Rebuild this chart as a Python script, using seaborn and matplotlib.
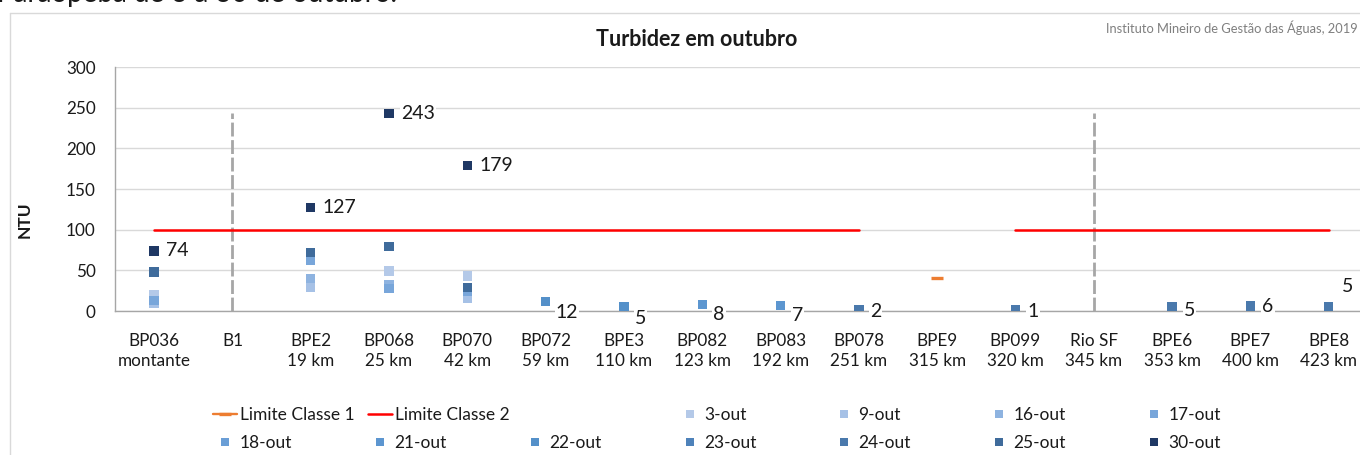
import numpy as np
import pandas as pd
import matplotlib
matplotlib.use("Agg")
import matplotlib.pyplot as plt
from matplotlib.lines import Line2D
import seaborn as sns

# ---------------- data ----------------
stations = ["BP036", "B1", "BPE2", "BP068", "BP070", "BP072", "BPE3", "BP082",
            "BP083", "BP078", "BPE9", "BP099", "Rio SF", "BPE6", "BPE7", "BPE8"]
distances = ["montante", "", "19 km", "25 km", "42 km", "59 km", "110 km", "123 km",
             "192 km", "251 km", "315 km", "320 km", "345 km", "353 km", "400 km", "423 km"]

dates = ["3-out", "9-out", "16-out", "17-out", "18-out", "21-out", "22-out",
         "23-out", "24-out", "25-out", "30-out"]

nan = np.nan
#            BP036 B1  BPE2 BP068 BP070 BP072 BPE3 BP082 BP083 BP078 BPE9 BP099 RioSF BPE6 BPE7 BPE8
v_03 = [20,  nan, nan, 49,  43,  nan, nan, nan, nan, nan, nan, nan, nan, nan, nan, nan]
v_09 = [9,   nan, 29,  nan, 16,  nan, nan, nan, nan, nan, nan, nan, nan, nan, nan, nan]
v_16 = [nan, nan, 40,  32,  nan, nan, nan, nan, nan, nan, nan, nan, nan, nan, nan, nan]
v_17 = [13,  nan, 62,  28,  24,  nan, nan, nan, nan, nan, nan, nan, nan, nan, nan, nan]
v_18 = [nan] * 16
v_21 = [nan, nan, nan, nan, nan, nan, nan, 8,   7,   nan, nan, nan, nan, nan, nan, nan]
v_22 = [nan, nan, nan, nan, nan, 12,  5,   nan, nan, nan, nan, nan, nan, nan, nan, nan]
v_23 = [nan] * 16
v_24 = [nan, nan, nan, nan, nan, nan, nan, nan, nan, 2,   nan, 1,   nan, 5,   6,   5]
v_25 = [48,  nan, 72,  79,  29,  nan, nan, nan, nan, nan, nan, nan, nan, nan, nan, nan]
v_30 = [74,  nan, 127, 243, 179, nan, nan, nan, nan, nan, nan, nan, nan, nan, nan, nan]
series_values = [v_03, v_09, v_16, v_17, v_18, v_21, v_22, v_23, v_24, v_25, v_30]

limite_classe_1 = [nan] * 10 + [40] + [nan] * 5
limite_classe_2 = [100] * 10 + [nan] + [100] * 5

divider_stations = ["B1", "Rio SF"]
divider_top = 243

# ---------------- style ----------------
colors = ["#B4C9E8", "#A6C1E6", "#8EB3E0", "#78A6DA", "#6A9ED6", "#5C96D0",
          "#5490C9", "#4E82BA", "#4A79AC", "#3F6B9B", "#1F3864"]
palette = dict(zip(dates, colors))

# label offsets (pixels) per labelled station
label_offsets = {"BP036": (12, 0), "BPE2": (12, 0), "BP068": (12, 0), "BP070": (12, 0),
                 "BP072": (10, -11), "BPE3": (11, -12), "BP082": (11, -10),
                 "BP083": (11, -10), "BP078": (11, -2), "BP099": (12, -1),
                 "BPE6": (12, -4), "BPE7": (12, 0), "BPE8": (13, 20)}

W, H = 1360, 455
sns.set_theme(style="white")
plt.rcParams["font.family"] = ["Lato", "DejaVu Sans"]
TXT = "#1a1a1a"

fig = plt.figure(figsize=(W / 100, H / 100), dpi=100)

# chart frame
fig.add_artist(Line2D([9.5 / W, 9.5 / W], [0, 1 - 12.5 / H], transform=fig.transFigure,
                      color="#D9D9D9", lw=1))
fig.add_artist(Line2D([9.5 / W, 1], [1 - 12.5 / H, 1 - 12.5 / H], transform=fig.transFigure,
                      color="#D9D9D9", lw=1))

ax_left, ax_bottom = 115, 311
cat_w = 78.3
ax = fig.add_axes([ax_left / W, 1 - ax_bottom / H, 16 * cat_w / W, 244 / H])

x = np.arange(len(stations))

# long data frame
rows = []
for d, vals in zip(dates, series_values):
    for i, v in enumerate(vals):
        if not np.isnan(v):
            rows.append({"pos": x[i], "station": stations[i], "date": d, "NTU": v})
df = pd.DataFrame(rows)

# dividers
div_x = [stations.index(s) for s in divider_stations]
ax.vlines(div_x, 0, divider_top, colors="#A6A6A6", lw=2.0,
          linestyles=(0, (5, 1.3)), zorder=2)

# limits
l2, = ax.plot(x, limite_classe_2, color="#FF0000", lw=1.8, zorder=3)
l1, = ax.plot(x, limite_classe_1, color="#ED7D31", lw=1.7, marker="_",
              markersize=9, markeredgewidth=2.4, zorder=3)

sns.scatterplot(data=df, x="pos", y="NTU", hue="date", hue_order=dates,
                palette=palette, marker="s", s=46, linewidth=0, legend=False,
                ax=ax, zorder=4)

# data labels: top value at each station
tops = df.groupby("station")["NTU"].max()
for st, v in tops.items():
    dx, dy = label_offsets.get(st, (12, 0))
    ax.annotate(f"{v:g}", (stations.index(st), v), xytext=(dx / 1.389, dy / 1.389),
                textcoords="offset points", ha="left", va="center", fontsize=14,
                color=TXT, zorder=5,
                bbox=dict(boxstyle="square,pad=0.05", fc="white", ec="none"))

ax.set_xlim(-0.5, 15.5)
ax.set_ylim(0, 300)
ax.set_yticks(np.arange(0, 301, 50))
ax.set_xticks(x)
ax.set_xticklabels([f"{s}\n{d}" for s, d in zip(stations, distances)],
                   fontsize=12.3, color=TXT, linespacing=1.3)
ax.set_xticks(np.arange(-0.5, 16, 1), minor=True)
ax.tick_params(axis="x", which="major", length=0, pad=16)
ax.tick_params(axis="x", which="minor", length=5, width=1, color="#A6A6A6", direction="out")
ax.tick_params(axis="y", length=5, width=1, color="#A6A6A6", direction="out",
               labelsize=12.3, labelcolor=TXT, pad=9)
ax.grid(axis="y", color="#D9D9D9", lw=1)
ax.grid(axis="x", visible=False)
for side in ["top", "right"]:
    ax.spines[side].set_visible(False)
for side in ["left", "bottom"]:
    ax.spines[side].set_color("#A6A6A6")
    ax.spines[side].set_linewidth(1)
ax.set_xlabel("")
ax.set_ylabel("")
ax.set_axisbelow(True)

# texts
fig.text(697 / W, 1 - 40 / H, "Turbidez em outubro", ha="center", va="center",
         fontsize=15.5, fontweight="bold", color=TXT)
fig.text(25 / W, 1 - 220 / H, "NTU", ha="center", va="center", rotation=90,
         fontsize=12.5, fontweight="bold", color=TXT)
fig.text(1358 / W, 1 - 28 / H, "Instituto Mineiro de Gestão das Águas, 2019",
         ha="right", va="center", fontsize=9.3, color="#7F7F7F")
fig.text(397 / W, 1 - 2 / H, "Paraopeba de 3 a 30 de outubro.", ha="right",
         va="baseline", fontsize=20, color=TXT)

# legend (grid of 7 columns, 2 rows)
col_x = [213, 368, 523, 678, 832, 987, 1142]
row_y = [415, 443]
fs_leg = 12.5
leg_items = [(0, 0, l1, "Limite Classe 1"), (1, 0, l2, "Limite Classe 2")]
row1_dates = ["3-out", "9-out", "16-out", "17-out"]
for j, d in enumerate(row1_dates):
    leg_items.append((3 + j, 0, None, d))
for j, d in enumerate(["18-out", "21-out", "22-out", "23-out", "24-out", "25-out", "30-out"]):
    leg_items.append((j, 1, None, d))
for c, r, h, lab in leg_items:
    if h is None:
        h = Line2D([], [], ls="none", marker="s", markersize=5.8, color=palette[lab],
                   markeredgewidth=0)
    fig.legend([h], [lab], loc="center left",
               bbox_to_anchor=(col_x[c] / W, 1 - row_y[r] / H), frameon=False,
               fontsize=fs_leg, handlelength=24 / 17.4, handletextpad=0.15,
               borderpad=0, borderaxespad=0, labelcolor=TXT)

fig.savefig("out.png", dpi=100)
